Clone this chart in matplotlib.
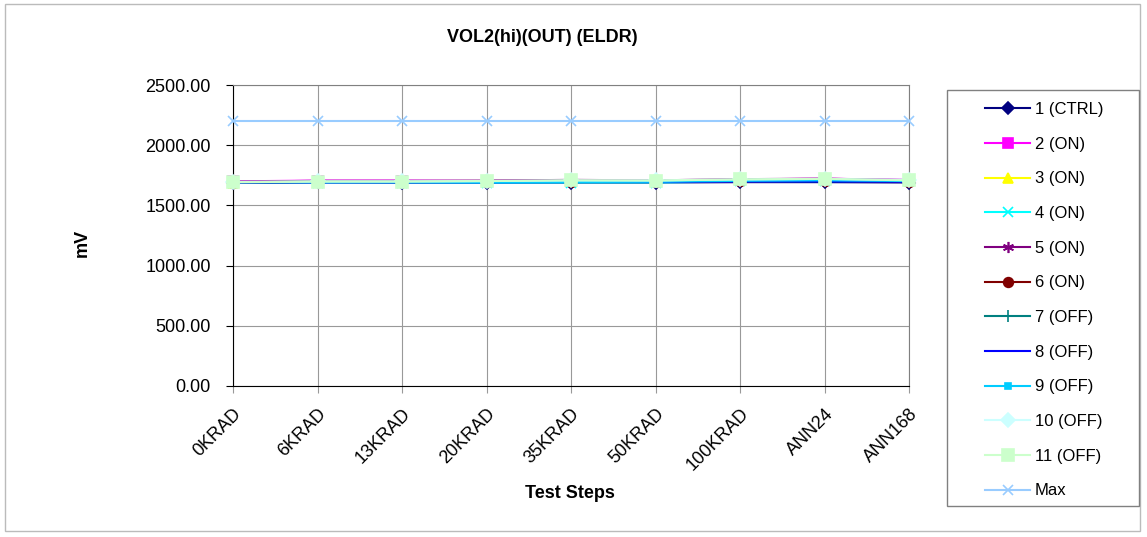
import matplotlib.pyplot as plt
import matplotlib.patches as patches

plt.rcParams['font.family'] = ['Liberation Sans', 'DejaVu Sans']

steps = ["0KRAD", "6KRAD", "13KRAD", "20KRAD", "35KRAD", "50KRAD", "100KRAD", "ANN24", "ANN168"]

s1 = [1690, 1692, 1690, 1690, 1690, 1690, 1693, 1693, 1690]
s2 = [1700, 1706, 1706, 1702, 1706, 1702, 1716, 1722, 1712]
s3 = [1688, 1696, 1698, 1700, 1700, 1700, 1712, 1716, 1700]
s4 = [1688, 1690, 1690, 1688, 1690, 1690, 1700, 1702, 1700]
s5 = [1698, 1704, 1704, 1706, 1712, 1708, 1718, 1722, 1710]
s6 = [1690, 1694, 1694, 1694, 1694, 1694, 1700, 1704, 1698]
s7 = [1692, 1696, 1696, 1698, 1702, 1702, 1712, 1716, 1706]
s8 = [1690, 1692, 1692, 1692, 1694, 1694, 1698, 1700, 1696]
s9 = [1692, 1694, 1694, 1692, 1694, 1696, 1704, 1708, 1702]
s10 = [1696, 1700, 1700, 1702, 1708, 1708, 1716, 1720, 1712]
s11 = [1692, 1698, 1698, 1702, 1708, 1706, 1716, 1720, 1708]
vmax = [2200] * 9

series = [
    ("1 (CTRL)", s1, "#000080", "D", 6),
    ("2 (ON)", s2, "#FF00FF", "s", 7),
    ("3 (ON)", s3, "#FFFF00", "^", 7),
    ("4 (ON)", s4, "#00FFFF", "x", 7),
    ("5 (ON)", s5, "#800080", (6, 2, 0), 8),
    ("6 (ON)", s6, "#800000", "o", 7),
    ("7 (OFF)", s7, "#008080", "|", 8),
    ("8 (OFF)", s8, "#0000FF", "_", 6),
    ("9 (OFF)", s9, "#00CCFF", "s", 4),
    ("10 (OFF)", s10, "#CCFFFF", "D", 7),
    ("11 (OFF)", s11, "#CCFFCC", "s", 9),
    ("Max", vmax, "#99CCFF", "x", 7),
]

W, H = 1147, 537
fig = plt.figure(figsize=(W / 100, H / 100), dpi=100)
fig.patches.append(patches.Rectangle((5 / W, 1 - 531 / H), 1135 / W, 527 / H, transform=fig.transFigure,
                                     fill=False, edgecolor="#BBBBBB", lw=1))
ax = fig.add_axes([233 / W, 1 - 386 / H, 676 / W, 301 / H])

x = list(range(len(steps)))
for label, vals, color, marker, ms in series:
    ax.plot(x, vals, color=color, marker=marker, markersize=ms, lw=1.5,
            markeredgewidth=1.2, label=label, clip_on=False, zorder=3)

ax.set_xlim(0, len(steps) - 1)
ax.set_ylim(0, 2500)
ax.set_yticks(range(0, 2501, 500))
ax.set_yticklabels([f"{v:.2f}" for v in range(0, 2501, 500)], fontsize=13)
ax.set_xticks(x)
ax.set_xticklabels(steps, rotation=45, ha="right", rotation_mode="anchor", fontsize=13)
ax.grid(True, color="#999999", lw=0.8)
ax.set_axisbelow(True)
for side in ["left", "bottom"]:
    ax.spines[side].set_color("black")
for side in ["top", "right"]:
    ax.spines[side].set_color("#808080")
ax.tick_params(axis="y", direction="out", length=5, pad=11)
ax.tick_params(axis="x", direction="out", length=5, pad=9, color="#999999")

fig.text(542 / W, 1 - 38 / H, "VOL2(hi)(OUT) (ELDR)", fontsize=13, fontweight="bold", ha="center", va="center")
fig.text(570 / W, 1 - 493 / H, "Test Steps", fontsize=13, fontweight="bold", ha="center", va="center")
fig.text(82 / W, 1 - 243 / H, "mV", fontsize=13, fontweight="bold", ha="center", va="center", rotation=90)

fig.patches.append(patches.Rectangle((947 / W, 1 - 506 / H), 192 / W, 416 / H, transform=fig.transFigure,
                                     fill=False, edgecolor="#808080", lw=1))
fig.legend(loc="upper left", bbox_to_anchor=(985 / W, 1 - 102 / H), fontsize=12,
           handlelength=2.7, labelspacing=1.18, frameon=False, borderpad=0,
           borderaxespad=0, handletextpad=0.3)

fig.savefig("out.png", dpi=100)
